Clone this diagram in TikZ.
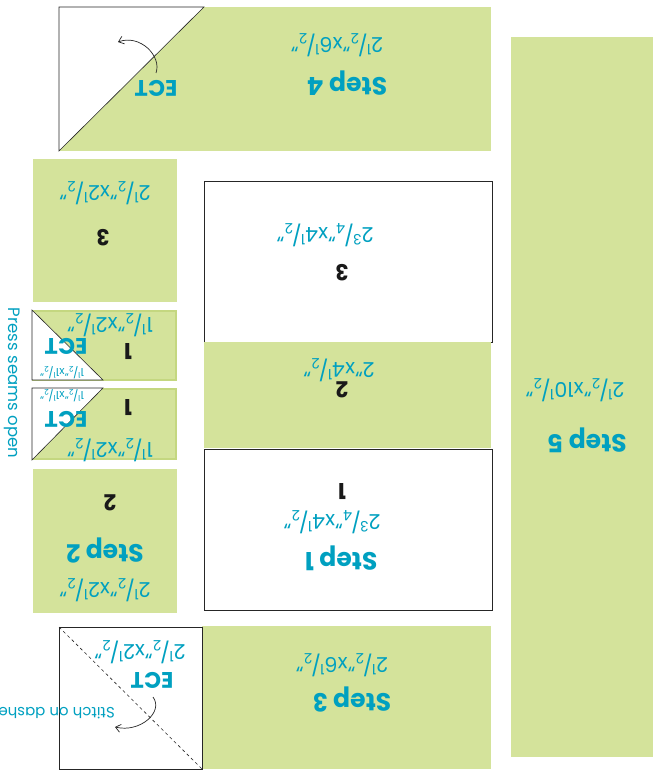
\documentclass[tikz,border=0pt]{standalone}
\usepackage{fontspec}
\setmainfont{Poppins}
\usetikzlibrary{arrows.meta}
\definecolor{quiltgreen}{RGB}{212,227,155}
\definecolor{seamgreen}{RGB}{196,215,128}
\definecolor{capteal}{RGB}{0,160,192}
\newcommand{\fr}[2]{\textsuperscript{#1}\kern-.06em/\kern-.06em\textsubscript{#2}}
\tikzset{
  cutsize/.style={text=capteal,font=\fontsize{20.5}{22}\selectfont,rotate=180,inner sep=0pt},
  smallsize/.style={text=capteal,font=\fontsize{11}{12}\selectfont,rotate=180,inner sep=0pt},
  stepname/.style={text=capteal,font=\bfseries\fontsize{25}{27}\selectfont,rotate=180,inner sep=0pt},
  ect/.style={text=capteal,font=\bfseries\fontsize{22.5}{24}\selectfont,rotate=180,inner sep=0pt},
  num/.style={text=black!90,font=\bfseries\fontsize{22}{24}\selectfont,rotate=180,inner sep=0pt},
  blank/.style={fill=white,draw=black!85,line width=0.8pt},
  fold/.style={draw=black!85,line width=0.7pt,-{Straight Barb[length=5pt,width=8pt]}}
}
\begin{document}
\begin{tikzpicture}[x=1pt,y=-1pt]
\useasboundingbox (0,0) rectangle (653,773);

% step 4 strip with corner triangle
\fill[quiltgreen] (59,7) rectangle (491,151);
\filldraw[blank,line width=0.6pt] (59,151) -- (59,7) -- (204,7) -- cycle;
\node[cutsize] (s4size) at (337,45) {2\fr12"x6\fr12"};
\node[stepname] (s4name) at (347,83) {Step 4};
\node[ect] (s4ect) at (156,88) {ECT};
\coordinate (s4from) at (156,73);
\coordinate (s4to) at (118,42);
\draw[fold] (s4from) .. controls (162,56) and (140,34) .. (s4to);

% step 5 strip
\fill[quiltgreen] (511,37) rectangle (653,757);
\node[cutsize] (s5size) at (575,390) {2\fr12"x10\fr12"};
\node[stepname] (s5name) at (587,440) {Step 5};

% left column
\fill[quiltgreen] (33,159) rectangle (177,302);
\node[cutsize] (sq3size) at (105,193) {2\fr12"x2\fr12"};
\node[num] (sq3num) at (103,238) {3};

% flying geese
\filldraw[fill=quiltgreen,draw=seamgreen,line width=1.5pt] (33,311) rectangle (176,380);
\filldraw[blank,line width=0.6pt] (32,310) -- (32,380) -- (103,380) -- cycle;
\filldraw[fill=quiltgreen,draw=seamgreen,line width=1.5pt] (33,389) rectangle (176,459);
\filldraw[blank,line width=0.6pt] (103,388) -- (32,388) -- (32,460) -- cycle;
\foreach \n/\y in {a/325,b/450}{\node[cutsize] (goose\n size) at (110,\y) {1\fr12"x2\fr12"};}
\foreach \n/\y in {a/352,b/408}{\node[num] (goose\n num) at (128,\y) {1};}
\foreach \n/\y in {a/346,b/419}{\node[ect] (goose\n ect) at (66,\y) {ECT};}
\foreach \n/\y in {a/373,b/396}{\node[smallsize] (goose\n small) at (62,\y) {1\fr12"x1\fr12"};}
\node[text=capteal,font=\fontsize{16.5}{18}\selectfont,rotate=-90,inner sep=0pt] (press) at (12,383) {Press seams open};

\fill[quiltgreen] (33,469) rectangle (177,613);
\node[num] (sq2num) at (110,503) {2};
\node[stepname] (s2name) at (105,550) {Step 2};
\node[cutsize] (s2size) at (105,590) {2\fr12"x2\fr12"};

% step 3 corner square and strip
\fill[quiltgreen] (202,626) rectangle (491,769);
\filldraw[blank] (59,627) rectangle (202,769);
\draw[black!85,line width=0.6pt,dashed] (59,627) -- (202,769);
\node[cutsize] (ect3size) at (140,652) {2\fr12"x2\fr12"};
\node[ect] (s3ect) at (152,680) {ECT};
\coordinate (s3from) at (153,697);
\coordinate (s3to) at (115,727);
\draw[fold] (s3from) .. controls (164,712) and (140,733) .. (s3to);
\node[text=capteal,font=\fontsize{15}{17}\selectfont,rotate=180,anchor=west,inner sep=0pt] (stitch) at (115,713) {Stitch on dashe};
\node[cutsize] (s3size) at (342,665) {2\fr12"x6\fr12"};
\node[stepname] (s3name) at (352,700) {Step 3};

% centre blocks
\filldraw[blank] (204,181) rectangle (492,342);
\fill[quiltgreen] (204,342) rectangle (491,448);
\filldraw[blank] (204,449) rectangle (492,610);
\node[cutsize] (c3size) at (325,235) {2\fr34"x4\fr12"};
\node[num] (c3num) at (342,273) {3};
\node[cutsize] (c2size) at (339,370) {2"x4\fr12"};
\node[num] (c2num) at (342,390) {2};
\node[num] (c1num) at (342,492) {1};
\node[cutsize] (c1size) at (332,522) {2\fr34"x4\fr12"};
\node[stepname] (s1name) at (341,558) {Step 1};
\end{tikzpicture}
\end{document}
